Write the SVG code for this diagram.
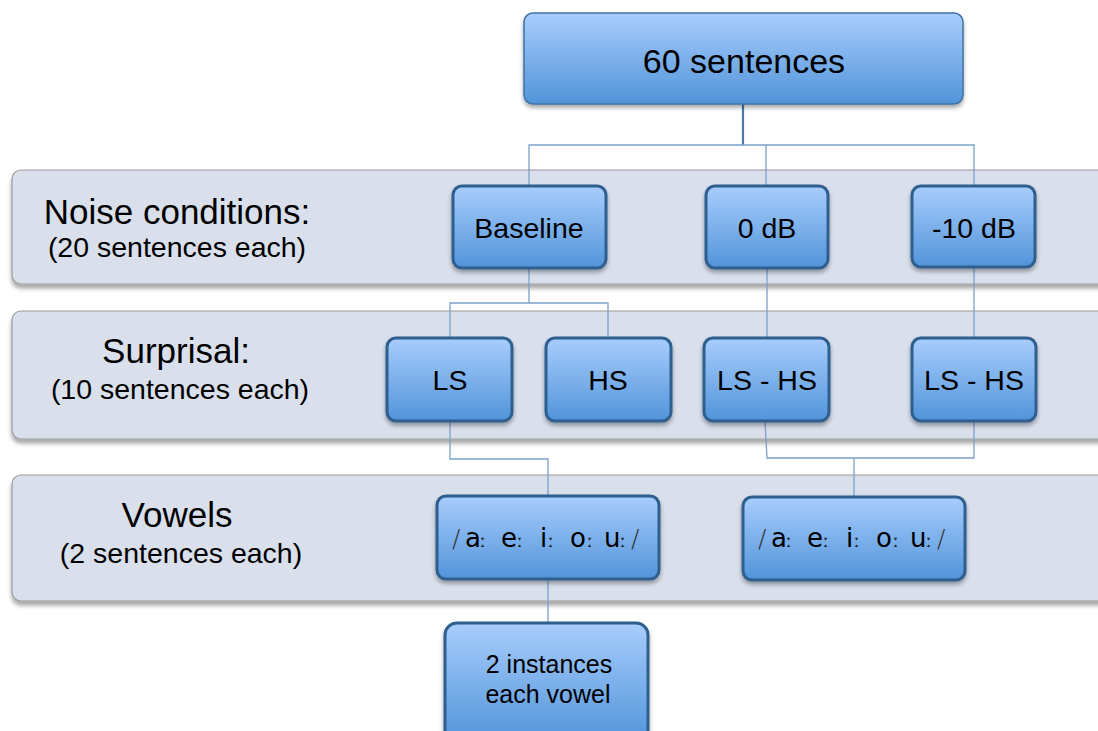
<svg xmlns="http://www.w3.org/2000/svg" width="1098" height="731" viewBox="0 0 1098 731">
<defs>
<linearGradient id="blue" x1="0" y1="0" x2="0" y2="1">
<stop offset="0" stop-color="#a8cdfc"/>
<stop offset="1" stop-color="#5194da"/>
</linearGradient>
<filter id="shadow" x="-10%" y="-10%" width="120%" height="130%">
<feDropShadow dx="0" dy="3" stdDeviation="2" flood-color="#000" flood-opacity="0.35"/>
</filter>
<filter id="bshadow" x="-5%" y="-10%" width="110%" height="130%">
<feDropShadow dx="0" dy="4" stdDeviation="2" flood-color="#000" flood-opacity="0.35"/>
</filter>
</defs>
<style>
.band{fill:#d9dfeb;stroke:#9a9a9a;stroke-width:1.2;filter:url(#bshadow)}
.box{fill:url(#blue);stroke:#2d5f8f;stroke-width:3;filter:url(#shadow)}
.top{fill:url(#blue);stroke:#3f72a6;stroke-width:1.5;filter:url(#shadow)}
.lbl{font-family:"Liberation Sans",Arial,sans-serif;fill:#000;text-anchor:middle}
.big{font-size:35px}
.sub{font-size:28.5px}
.node{font-size:28.5px}
.vow{font-family:"DejaVu Sans","Liberation Sans",sans-serif;font-size:26px;fill:#000}
.sl{font-size:25px;fill:#333;font-weight:200}
.lm{font-size:18px;fill:#222}
.conn{fill:none;stroke:#7aa2cb;stroke-width:1.3}
.conn2{fill:none;stroke:#4a79aa;stroke-width:2.2}
</style>

<g id="bands">
<rect class="band" x="12" y="170" width="1110" height="114" rx="9"/>
<rect class="band" x="12" y="311" width="1110" height="128" rx="9"/>
<rect class="band" x="12" y="475" width="1110" height="126" rx="9"/>
<text class="lbl big" x="177" y="224">Noise conditions:</text>
<text class="lbl sub" x="177" y="257">(20 sentences each)</text>
<text class="lbl big" x="176" y="363">Surprisal:</text>
<text class="lbl sub" x="180" y="399">(10 sentences each)</text>
<text class="lbl big" x="177" y="527">Vowels</text>
<text class="lbl sub" x="181" y="563">(2 sentences each)</text>
</g>

<g id="connectors">
<path class="conn2" d="M743 104 V145"/>
<path class="conn" d="M529 186 V145 H974 V186 M766 145 V186"/>
<path class="conn" d="M529 268 V303 H450 V338 M529 303 H608 V338"/>
<path class="conn" d="M767 268 V338 M974 267 V338"/>
<path class="conn" d="M450 421 V459 H548 V496"/>
<path class="conn" d="M765 421 L767 458 H974 V421 M854 458 V497"/>
<path class="conn" d="M548 579 V623"/>
</g>

<g id="n-60">
<rect class="top" x="524" y="13" width="439" height="91" rx="9"/>
<text class="lbl" style="font-size:34px" x="744" y="73">60 sentences</text>
</g>

<g id="n-baseline">
<rect class="box" x="453" y="186" width="153" height="82" rx="9"/>
<text class="lbl node" x="529" y="238">Baseline</text>
</g>
<g id="n-0db">
<rect class="box" x="706" y="186" width="122" height="82" rx="9"/>
<text class="lbl node" x="767" y="238">0 dB</text>
</g>
<g id="n-m10db">
<rect class="box" x="912" y="186" width="123" height="81" rx="9"/>
<text class="lbl node" x="974" y="238">-10 dB</text>
</g>

<g id="n-ls">
<rect class="box" x="387" y="338" width="125" height="83" rx="9"/>
<text class="lbl node" x="450" y="390">LS</text>
</g>
<g id="n-hs">
<rect class="box" x="546" y="338" width="125" height="83" rx="9"/>
<text class="lbl node" x="608" y="390">HS</text>
</g>
<g id="n-lshs1">
<rect class="box" x="704" y="338" width="125" height="83" rx="9"/>
<text class="lbl node" x="767" y="390">LS - HS</text>
</g>
<g id="n-lshs2">
<rect class="box" x="912" y="338" width="124" height="83" rx="9"/>
<text class="lbl node" x="974" y="390">LS - HS</text>
</g>

<g id="n-vowels1">
<rect class="box" x="437" y="496" width="222" height="83" rx="9"/>
<text class="vow" y="547"><tspan class="sl" x="452">/</tspan><tspan x="465">a</tspan><tspan class="lm" x="480">ː</tspan><tspan x="501">e</tspan><tspan class="lm" x="517">ː</tspan><tspan x="540">i</tspan><tspan class="lm" x="548">ː</tspan><tspan x="570">o</tspan><tspan class="lm" x="587">ː</tspan><tspan x="604">u</tspan><tspan class="lm" x="620">ː</tspan><tspan class="sl" x="631">/</tspan></text>
</g>
<g id="n-vowels2">
<rect class="box" x="743" y="497" width="222" height="83" rx="9"/>
<text class="vow" y="547"><tspan class="sl" x="758">/</tspan><tspan x="771">a</tspan><tspan class="lm" x="786">ː</tspan><tspan x="807">e</tspan><tspan class="lm" x="823">ː</tspan><tspan x="846">i</tspan><tspan class="lm" x="854">ː</tspan><tspan x="876">o</tspan><tspan class="lm" x="893">ː</tspan><tspan x="910">u</tspan><tspan class="lm" x="926">ː</tspan><tspan class="sl" x="937">/</tspan></text>
</g>

<g id="n-instances">
<rect class="box" x="445" y="623" width="203" height="120" rx="12"/>
<text class="lbl" style="font-size:25px" x="549" y="673">2 instances</text>
<text class="lbl" style="font-size:25px" x="548" y="703">each vowel</text>
</g>
</svg>
